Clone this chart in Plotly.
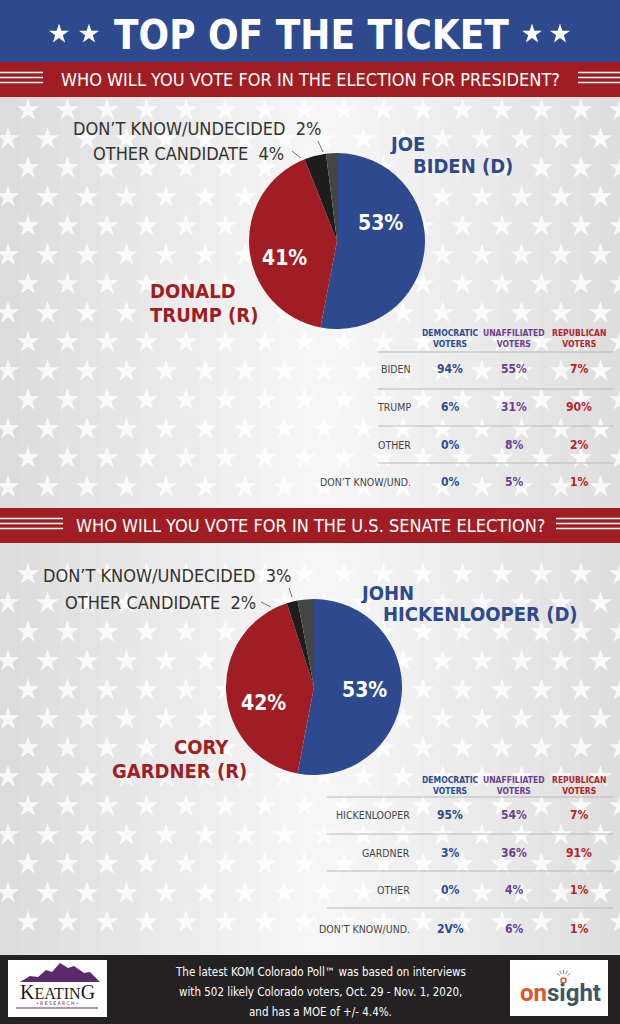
import plotly.graph_objects as go
import numpy as np

W, H = 620, 1024

# ---------------- data ----------------
title = "TOP OF THE TICKET"
pres_question = "WHO WILL YOU VOTE FOR IN THE ELECTION FOR PRESIDENT?"
sen_question = "WHO WILL YOU VOTE FOR IN THE U.S. SENATE ELECTION?"

pie_categories = ["Democrat", "Republican", "Other candidate", "Don't know/undecided"]
pres_values = [53, 41, 4, 2]
sen_values = [53, 42, 2, 3]
pres_names = [["JOE", "BIDEN (D)"], ["DONALD", "TRUMP (R)"]]
sen_names = [["JOHN", "HICKENLOOPER (D)"], ["CORY", "GARDNER (R)"]]
minor_labels = ["OTHER CANDIDATE", "DON\u2019T KNOW/UNDECIDED"]

table_columns = ["DEMOCRATIC<br>VOTERS", "UNAFFILIATED<br>VOTERS", "REPUBLICAN<br>VOTERS"]
pres_rows = ["BIDEN", "TRUMP", "OTHER", "DON\u2019T KNOW/UND."]
pres_dem = ["94%", "6%", "0%", "0%"]
pres_una = ["55%", "31%", "8%", "5%"]
pres_rep = ["7%", "90%", "2%", "1%"]
sen_rows = ["HICKENLOOPER", "GARDNER", "OTHER", "DON\u2019T KNOW/UND."]
sen_dem = ["95%", "3%", "0%", "2V%"]
sen_una = ["54%", "36%", "4%", "6%"]
sen_rep = ["7%", "91%", "1%", "1%"]

footnote = [
    "The latest KOM Colorado Poll\u2122 was based on interviews",
    "with 502 likely Colorado voters, Oct. 29 - Nov. 1, 2020,",
    "and has a MOE of +/- 4.4%.",
]

# ---------------- style ----------------
BLUE = "#2d4a8e"
RED = "#a01e23"
PURPLE = "#6b3f8f"
TRED = "#b3232a"
DARK = "#333333"
PIE_COLORS = [BLUE, RED, "#1d1d1d", "#454545"]
COND = "Liberation Sans Narrow, DejaVu Sans Condensed, Roboto Condensed, Arial Narrow, sans-serif"
HEAVY = "DejaVu Sans Condensed, Liberation Sans Narrow, Arial Narrow, sans-serif"

fig = go.Figure()
shapes = []
ann = []


def A(x, y, text, size, color, xanchor="center", family=COND, bold=False, yanchor="middle", height=None):
    d = dict(x=x, y=y, xref="x", yref="y", text=text, showarrow=False,
             xanchor=xanchor, yanchor=yanchor,
             font=dict(size=size, color=color, family=family,
                       weight="bold" if bold else "normal"))
    if height is not None:
        d["height"] = height
        d["borderpad"] = 0
    ann.append(d)


def rect(x0, y0, x1, y1, color, layer="below", line=None):
    shapes.append(dict(type="rect", xref="x", yref="y", x0=x0, y0=y0, x1=x1, y1=y1,
                       fillcolor=color, line=line or dict(width=0), layer=layer))


def seg(x0, y0, x1, y1, color, width=1, layer="above"):
    shapes.append(dict(type="line", xref="x", yref="y", x0=x0, y0=y0, x1=x1, y1=y1,
                       line=dict(color=color, width=width), layer=layer))


# background gradient (light centre, grey edges)
n = 31
for i in range(n):
    x0 = i * W / n
    xc = x0 + W / n / 2
    t = abs(xc - 320) / 320
    g = int(247 - 27 * t ** 1.1)
    rect(x0, 0, x0 + W / n + 0.5, H, f"rgb({g},{g},{g})")

# decorative star pattern
sx, sy = [], []
for ys, ye in [(110, 500), (574, 940)]:
    for y in np.arange(ys, ye, 29.0):
        off = 28 if ((y - 110) // 29) % 2 == 0 else 8
        for x in np.arange(off, W + 20, 39.5):
            sx.append(x)
            sy.append(y)
fig.add_trace(go.Scatter(x=sx, y=sy, mode="markers", hoverinfo="skip",
                         marker=dict(symbol="star", size=17, color="rgba(255,255,255,0.8)",
                                     line=dict(width=0)), showlegend=False))

# top blue banner
rect(0, 0, W, 62, BLUE)
A(311, 35, title, 40, "white", family=HEAVY, bold=True)
fig.add_trace(go.Scatter(x=[59, 89, 532, 560], y=[34, 34, 34, 34], mode="markers", hoverinfo="skip",
                         marker=dict(symbol="star", size=15, color="white"), showlegend=False))


def band(y0, y1, text, stripe_l, stripe_r):
    rect(0, y0, W, y1, RED)
    yc = (y0 + y1) / 2
    for d in (-5, 0, 5):
        seg(0, yc + d - 2, stripe_l, yc + d - 2, "white", 1.5)
        seg(stripe_r, yc + d - 2, W, yc + d - 2, "white", 1.5)
    A(310, yc, text, 18, "white")


band(62, 97, pres_question, 43, 578)
band(508, 543, sen_question, 63, 556)


def pie(values, cx, cy, r):
    fig.add_trace(go.Pie(values=values, labels=pie_categories, sort=False, direction="clockwise",
                         rotation=0, textinfo="none", hoverinfo="label+percent",
                         marker=dict(colors=PIE_COLORS, line=dict(width=0)),
                         domain=dict(x=[(cx - r) / W, (cx + r) / W],
                                     y=[1 - (cy + r) / H, 1 - (cy - r) / H]),
                         showlegend=False))


# ---- president pie ----
pie(pres_values, 337, 241, 88)
A(380, 223, f"{pres_values[0]}%", 21, "white", bold=True)
A(284, 258, f"{pres_values[1]}%", 21, "white", bold=True)
A(389, 143, pres_names[0][0], 20, BLUE, xanchor="left", bold=True, height=21)
A(412, 165, pres_names[0][1], 20, BLUE, xanchor="left", bold=True, height=21)
A(149, 290, pres_names[1][0], 20, RED, xanchor="left", bold=True, height=21)
A(149, 314, pres_names[1][1], 20, RED, xanchor="left", bold=True, height=21)
A(323, 128, f"{minor_labels[1]}  {pres_values[3]}%", 18, DARK, xanchor="right")
A(286, 153, f"{minor_labels[0]}  {pres_values[2]}%", 18, DARK, xanchor="right")
seg(292, 151, 301, 158, "#777", 1)
seg(318, 141, 323, 152, "#777", 1)

# ---- senate pie ----
pie(sen_values, 314, 687, 88)
A(364, 690, f"{sen_values[0]}%", 21, "white", bold=True)
A(263, 703, f"{sen_values[1]}%", 21, "white", bold=True)
A(360, 592, sen_names[0][0], 20, BLUE, xanchor="left", bold=True, height=21)
A(382, 613, sen_names[0][1], 20, BLUE, xanchor="left", bold=True, height=21)
A(230, 746, sen_names[1][0], 20, RED, xanchor="right", bold=True, height=21)
A(248, 770, sen_names[1][1], 20, RED, xanchor="right", bold=True, height=21)
A(293, 575, f"{minor_labels[1]}  {sen_values[3]}%", 18, DARK, xanchor="right")
A(258, 602, f"{minor_labels[0]}  {sen_values[2]}%", 18, DARK, xanchor="right")
seg(261, 602, 271, 607, "#777", 1)
seg(289, 588, 292, 597, "#777", 1)


# ---- tables ----
COLX = [450, 514, 579]
COLC = [BLUE, PURPLE, TRED]


def table(rows, cols, header_y, line_ys, row_ys, line_x0, label_x):
    for cx, cc, head in zip(COLX, COLC, table_columns):
        A(cx, header_y, head, 8.5, cc, bold=True)
    for ly in line_ys:
        seg(line_x0, ly, 613, ly, "#b9b9b9", 1)
    for i, (ry, lab) in enumerate(zip(row_ys, rows)):
        A(label_x, ry, lab, 10.5, "#444444", xanchor="right")
        for cx, cc, col in zip(COLX, COLC, cols):
            A(cx, ry, col[i], 12, cc, bold=True)


table(pres_rows, [pres_dem, pres_una, pres_rep], 338, [352, 389, 426, 463],
      [369, 407, 445, 482], 378, 413)
table(sen_rows, [sen_dem, sen_una, sen_rep], 785, [797, 834, 871, 908],
      [815, 853, 890, 929], 327, 412)

# ---- footer ----
rect(0, 955, W, H, "#232122", layer="above")
for yy, line in zip([972, 992, 1012], footnote):
    A(320, yy, line, 11.5, "white")

# Keating logo
rect(8, 960, 107, 1017, "white", layer="above")
shapes.append(dict(type="path", xref="x", yref="y", layer="above",
                   path="M 20 982 L 30 976 L 38 977 L 46 970 L 52 972 L 60 963 L 68 968 "
                        "L 74 966 L 84 973 L 90 972 L 100 982 Z",
                   fillcolor="#5a2a6c", line=dict(width=0)))
A(57, 992, "K<span style='font-size:16px'>EATIN</span>G", 20, "#1a1a1a",
  family="Liberation Serif, DejaVu Serif, serif")
A(57, 1003, "\u2022 R E S E A R C H \u2022", 5, "#5a2a6c")
seg(16, 1008, 98, 1008, "#5a2a6c", 1)

# Onsight logo
rect(510, 960, 608, 1016, "white", layer="above")
A(560, 993, "<span style='color:#e4512b'>on</span><span style='color:#3e5562'>sight</span>",
  24, "#3e5562", family="Roboto, Lato, sans-serif", bold=True)
shapes.append(dict(type="circle", xref="x", yref="y", x0=561, y0=978, x1=566, y1=983,
                   line=dict(color="#e4512b", width=1.5), fillcolor="white", layer="above"))
for ang in (-50, -25, 0, 25, 50):
    a = np.radians(ang)
    seg(563.5 + 5 * np.sin(a), 979 - 5 * np.cos(a), 563.5 + 9 * np.sin(a), 979 - 9 * np.cos(a),
        "#8a8a8a", 1)

fig.update_layout(
    width=W, height=H, margin=dict(l=0, r=0, t=0, b=0),
    paper_bgcolor="#ececec", plot_bgcolor="rgba(0,0,0,0)",
    xaxis=dict(range=[0, W], visible=False, fixedrange=True, domain=[0, 1]),
    yaxis=dict(range=[H, 0], visible=False, fixedrange=True, domain=[0, 1]),
    shapes=shapes, annotations=ann, showlegend=False,
)

fig.write_html("out.html", config={"displayModeBar": False},
               post_script="document.body.style.margin='0';document.body.style.overflow='hidden';")
